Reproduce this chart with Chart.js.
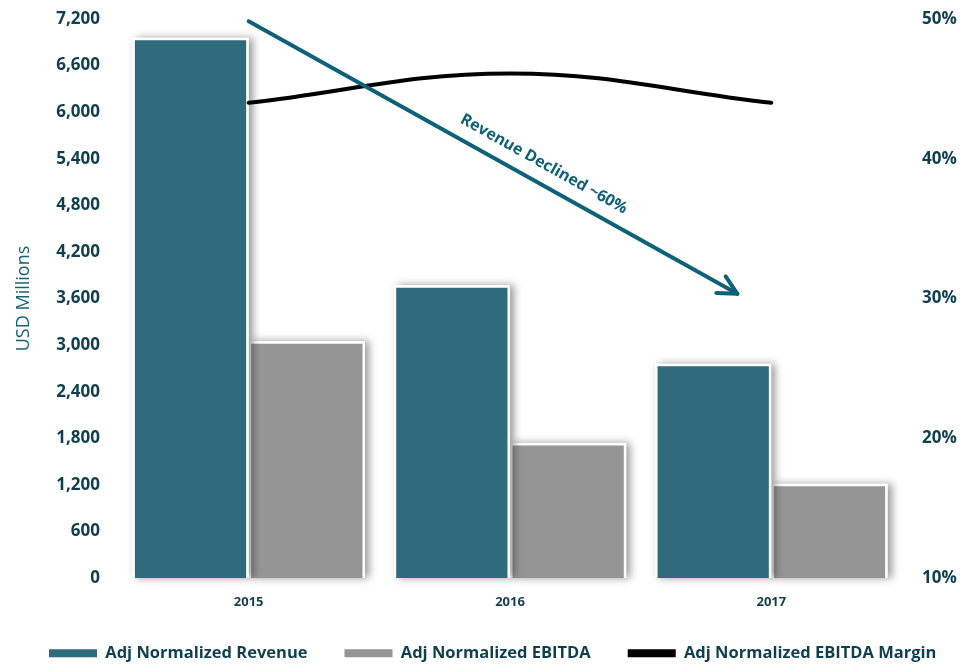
<!DOCTYPE html>
<html>
<head>
<meta charset="utf-8">
<title>Adj Normalized Revenue and EBITDA</title>
<script src="https://cdn.jsdelivr.net/npm/chart.js@4.4.1/dist/chart.umd.min.js"></script>
<style>
    html, body { margin: 0; padding: 0; background: #ffffff; }
    #chartWrap { width: 976px; height: 664px; }
</style>
</head>
<body>
<div id="chartWrap">
    <canvas id="financeChart" width="976" height="664"></canvas>
</div>
<script>
// Data (USD millions, margin in %)
const years = ['2015', '2016', '2017'];
const revenue = [6960, 3770, 2760];
const ebitda = [3050, 1740, 1215];
const ebitdaMargin = [44.0, 46.1, 44.0];

// Axis ranges
const usdMin = 0;
const usdMax = 7200;
const usdStep = 600;
const pctMin = 10;
const pctMax = 50;
const pctStep = 10;

// Trend arrow, in data units (x = category index, y = USD millions)
const trendFrom = { x: 0, y: 7170 };
const trendTo = { x: 1.87, y: 3660 };
const trendLabel = 'Revenue Declined ~60%';

const TEAL = '#2e6b7c';
const GREY = '#959595';
const ARROW = '#0d6179';
const TEXT = '#0f3f4f';
const FONT = '"Open Sans", "DejaVu Sans", sans-serif';

// soft drop shadow under the bars of each dataset, drawn just before that dataset
const barShadow = {
    id: 'barShadow',
    beforeDatasetDraw(chart, args) {
        const meta = args.meta;
        if (meta.type !== 'bar') return;
        const ctx = chart.ctx;
        ctx.save();
        ctx.shadowColor = 'rgba(0, 0, 0, 0.4)';
        ctx.shadowBlur = 8;
        ctx.shadowOffsetX = 4;
        ctx.shadowOffsetY = 0;
        ctx.fillStyle = '#ffffff';
        meta.data.forEach((bar) => {
            ctx.fillRect(bar.x - bar.width / 2, bar.y, bar.width, bar.base - bar.y);
        });
        ctx.restore();
    },
};

// arrow with rotated caption
const trendArrow = {
    id: 'trendArrow',
    afterDatasetsDraw(chart) {
        const { ctx, scales } = chart;
        const x1 = scales.x.getPixelForValue(trendFrom.x);
        const y1 = scales.y.getPixelForValue(trendFrom.y);
        const x2 = scales.x.getPixelForValue(trendTo.x);
        const y2 = scales.y.getPixelForValue(trendTo.y);
        const ang = Math.atan2(y2 - y1, x2 - x1);

        ctx.save();
        ctx.strokeStyle = ARROW;
        ctx.lineWidth = 4;
        ctx.lineCap = 'round';
        ctx.lineJoin = 'round';
        ctx.beginPath();
        ctx.moveTo(x1, y1);
        ctx.lineTo(x2, y2);
        ctx.stroke();

        const head = 21;
        const spread = Math.PI * 0.15;
        ctx.beginPath();
        ctx.moveTo(x2 - head * Math.cos(ang - spread), y2 - head * Math.sin(ang - spread));
        ctx.lineTo(x2, y2);
        ctx.lineTo(x2 - head * Math.cos(ang + spread), y2 - head * Math.sin(ang + spread));
        ctx.stroke();

        // caption sits above the shaft
        const t = 0.585;
        const off = 19;
        const tx = x1 + (x2 - x1) * t + Math.sin(ang) * off;
        const ty = y1 + (y2 - y1) * t - Math.cos(ang) * off;
        ctx.translate(tx, ty);
        ctx.rotate(ang);
        ctx.font = 'bold 16px ' + FONT;
        ctx.fillStyle = ARROW;
        ctx.textAlign = 'center';
        ctx.textBaseline = 'middle';
        ctx.fillText(trendLabel, 0, 0);
        ctx.restore();
    },
};

// nudge the legend row up a little, closer to the year labels
const legendLift = {
    id: 'legendLift',
    afterLayout(chart) {
        chart.legend.top -= 4;
    },
};

// fixed axis width; drop the extra top/bottom room tick padding would add
const fixWidth = (w) => (scale) => {
    scale.width = w;
    scale.paddingTop = 0;
    scale.paddingBottom = 0;
};

const ctx = document.getElementById('financeChart').getContext('2d');
new Chart(ctx, {
    type: 'bar',
    data: {
        labels: years,
        datasets: [
            {
                label: 'Adj Normalized Revenue',
                data: revenue,
                backgroundColor: TEAL,
                borderColor: '#ffffff',
                borderWidth: 2.5,
                categoryPercentage: 0.89,
                barPercentage: 1.0,
                yAxisID: 'y',
                order: 1,
            },
            {
                label: 'Adj Normalized EBITDA',
                data: ebitda,
                backgroundColor: GREY,
                borderColor: '#ffffff',
                borderWidth: 2.5,
                categoryPercentage: 0.89,
                barPercentage: 1.0,
                yAxisID: 'y',
                order: 1,
            },
            {
                type: 'line',
                label: 'Adj Normalized EBITDA Margin',
                data: ebitdaMargin,
                borderColor: '#000000',
                backgroundColor: '#000000',
                borderWidth: 4,
                borderCapStyle: 'round',
                tension: 0.4,
                pointRadius: 0,
                yAxisID: 'y1',
                order: 0,
            },
        ],
    },
    options: {
        responsive: false,
        animation: false,
        layout: {
            autoPadding: false,
            padding: { left: 12, right: 0, top: 19, bottom: 0 },
        },
        plugins: {
            tooltip: { enabled: false },
            legend: {
                position: 'bottom',
                align: 'start',
                maxHeight: 52,
                labels: {
                    boxWidth: 48,
                    boxHeight: 8,
                    padding: 37,
                    color: TEXT,
                    font: { family: FONT, size: 16.5, weight: 'bold' },
                    generateLabels: (chart) => chart.data.datasets.map((ds, i) => ({
                        text: ds.label,
                        fillStyle: ds.backgroundColor,
                        strokeStyle: ds.backgroundColor,
                        lineWidth: 0,
                        hidden: false,
                        datasetIndex: i,
                        fontColor: TEXT,
                    })),
                },
            },
        },
        scales: {
            x: {
                grid: { display: false, drawTicks: false },
                border: { display: false },
                ticks: {
                    color: TEXT,
                    padding: 16,
                    font: { family: FONT, size: 13, weight: 'bold' },
                },
                afterFit: (scale) => { scale.height = 34; },
            },
            y: {
                position: 'left',
                min: usdMin,
                max: usdMax,
                grid: { display: false, drawTicks: false },
                border: { display: false },
                ticks: {
                    stepSize: usdStep,
                    padding: 18,
                    color: TEXT,
                    font: { family: FONT, size: 17, weight: 'bold' },
                    callback: (v) => v.toLocaleString('en-US'),
                },
                title: {
                    display: true,
                    text: 'USD Millions',
                    color: '#1c6073',
                    padding: { top: 1, bottom: 0 },
                    font: { family: FONT, size: 18 },
                },
                afterFit: fixWidth(106),
            },
            y1: {
                position: 'right',
                min: pctMin,
                max: pctMax,
                grid: { display: false, drawTicks: false },
                border: { display: false },
                ticks: {
                    stepSize: pctStep,
                    padding: 20,
                    color: TEXT,
                    font: { family: FONT, size: 17, weight: 'bold' },
                    callback: (v) => v + '%',
                },
                afterFit: fixWidth(74),
            },
        },
    },
    plugins: [barShadow, trendArrow, legendLift],
});
</script>
</body>
</html>
